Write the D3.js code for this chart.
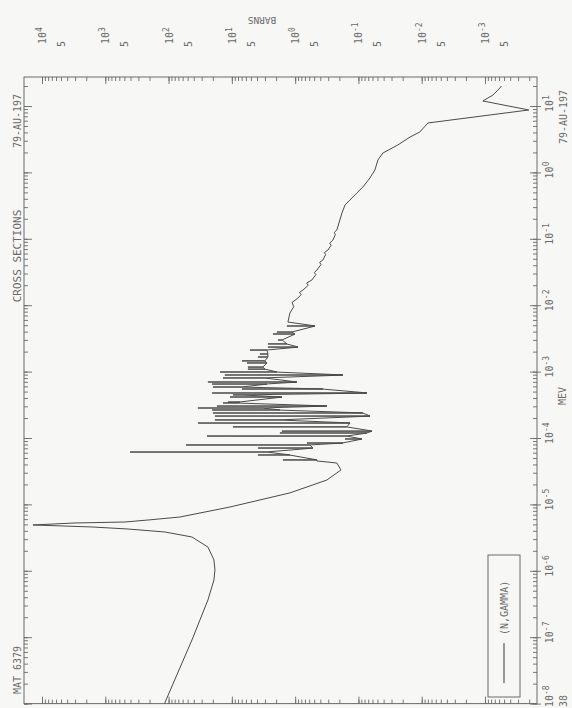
<!DOCTYPE html>
<html><head><meta charset="utf-8">
<script src="https://cdn.jsdelivr.net/npm/d3@7"></script>
<style>body{margin:0;background:#f7f7f5}svg{display:block}</style>
</head><body><svg id="c" width="572" height="708"></svg>
<script>
// ---------- data ----------
const energyTicks = [1e-8,1e-7,1e-6,1e-5,1e-4,1e-3,1e-2,1e-1,1,10];
const energyTickExp = ["-8","-7","-6","-5","-4","-3","-2","-1","0","1"];
const barnsTicks = [1e4,1e3,1e2,1e1,1,1e-1,1e-2,1e-3];
const barnsTickExp = ["4","3","2","1","0","-1","-2","-3"];
const barnsFiveTicks = [5e3,5e2,5e1,5,5e-1,5e-2,5e-3,5e-4];

// low-energy part (MeV, barns), incl. 4.9 eV resonance
const lowE  = [1.0e-8,9.08e-8,3.63e-7,7.26e-7,1.03e-6,1.46e-6,2.28e-6,3.23e-6,3.84e-6,4.26e-6,4.57e-6,4.90e-6,5.25e-6,5.43e-6,5.82e-6,6.46e-6,9.14e-6,1.49e-5,2.33e-5,3.30e-5,4.20e-5,4.51e-5];
const lowXS = [116,42.7,23.9,19.2,18.5,19.2,23.9,42.7,114,438,1620,13900,3010,489,211,66.1,10.7,1.21,0.315,0.189,0.219,0.453];

// resolved resonance region: resonance energy, peak and valley cross sections
const forestE = [4.67e-5,5.55e-5,6.15e-5,7.06e-5,7.85e-5,8.41e-5,9.66e-5,1.07e-4,1.19e-4,1.27e-4,1.47e-4,1.68e-4,1.87e-4,2.14e-4,2.38e-4,2.64e-4,2.83e-4,3.03e-4,3.37e-4,3.48e-4,4.14e-4,4.45e-4,4.76e-4,5.47e-4,5.86e-4,6.50e-4,6.97e-4,8.02e-4,8.89e-4,9.86e-4,1.09e-3,1.17e-3,1.35e-3,1.45e-3,1.66e-3,1.84e-3,2.11e-3,2.34e-3,2.61e-3,2.99e-3,3.68e-3,3.94e-3,4.86e-3];
const forestPeak = [1.56,3.87,407,3.87,53.1,0.651,0.163,24.7,1.74,1.62,9.61,34.3,18.5,18.5,19.9,20.6,34.3,17.2,13.8,11.5,10.7,9.61,20.6,6.92,19.9,20.6,23.9,13.8,12.9,15.4,5.57,5.57,5.77,6.92,3.87,3.60,5.18,2.69,2.69,1.87,2.24,1.94,1.35];
const forestValley = [0.453,1.21,2.79,0.524,0.584,0.176,0.0881,0.152,0.0734,0.0612,0.152,0.136,1.74,0.0658,0.0849,1.74,3.23,0.315,8.01,7.45,1.62,6.68,0.0734,0.364,6.92,2.79,0.937,3.00,0.176,1.94,3.00,3.23,2.79,3.00,2.69,2.69,2.79,0.904,1.35,1.6,1.01,1.12,0.487];

// unresolved / fast region
const highE  = [5.58e-3,7.63e-3,9.5e-3,0.0110,0.0128,0.0145,0.0155,0.0169,0.0200,0.0215,0.0240,0.0290,0.0310,0.0339,0.041,0.044,0.0480,0.058,0.062,0.0678,0.080,0.086,0.0959,0.115,0.125,0.136,0.173,0.245,0.323,0.490,0.603,0.824,1.09,1.54,1.96,2.59,3.41,4.06,5.55,8.71,11.9,14.6,18.7,20.0];
const highXS = [1.30,1.21,1.05,1.12,0.904,0.80,0.86,0.753,0.62,0.66,0.543,0.47,0.50,0.453,0.39,0.41,0.364,0.33,0.345,0.303,0.27,0.285,0.253,0.232,0.240,0.219,0.203,0.182,0.163,0.106,0.0849,0.0658,0.0548,0.0492,0.0410,0.0238,0.0153,0.0107,0.00798,0.000203,0.00108,0.000750,0.000582,0.00055];

const legendLabel = "(N,GAMMA)";
const titleText = "CROSS SECTIONS";
const matText = "MAT 6379";
const isoText = "79-AU-197";

// ---------- layout ----------
const X0 = 24, X1 = 537, Y0 = 77, Y1 = 703.6;
const yE = d3.scaleLog().domain([1e-8, 10]).range([703.6, 106]);
const xB = d3.scaleLog().domain([1e4, 1e-3]).range([42, 485]);
const INK = "#6a6a6a", CURVE = "#4a4a4a";
const FONT = "'DejaVu Sans Mono', monospace";

const svg = d3.select("#c");
svg.append("rect").attr("width",572).attr("height",708).attr("fill","#f7f7f5");

// build the curve points
const pts = [];
lowE.forEach((e,i)=>pts.push([e,lowXS[i]]));
forestE.forEach((e,i)=>{
  pts.push([e*0.997, forestValley[i]]);
  pts.push([e, forestPeak[i]]);
  pts.push([e*1.003, forestValley[i]]);
});
highE.forEach((e,i)=>pts.push([e,highXS[i]]));

// minor tick generator
function decadeTicks(lo, hi){const t=[];for(let k=lo;k<=hi;k++)for(let m=1;m<10;m++)t.push(+(m*Math.pow(10,k)).toPrecision(3));return t;}
const eMinor = decadeTicks(-9,2).filter(v=>yE(v)>=Y0-0.1 && yE(v)<=Y1+0.1);
const bMinor = decadeTicks(-5,5).filter(v=>xB(v)>=X0-0.1 && xB(v)<=X1+0.1);

function styleAxis(g){g.select(".domain").remove();g.selectAll("line").attr("stroke",INK).attr("stroke-width",0.9);}

// right (energy) axis: minor inside, major crossing
svg.append("g").attr("transform",`translate(${X1},0)`)
  .call(d3.axisLeft(yE).tickValues(eMinor).tickSize(4).tickFormat("")).call(styleAxis);
svg.append("g").attr("transform",`translate(${X1+4},0)`)
  .call(d3.axisLeft(yE).tickValues(energyTicks).tickSize(11).tickFormat("")).call(styleAxis);
// left frame ticks
svg.append("g").attr("transform",`translate(${X0},0)`)
  .call(d3.axisRight(yE).tickValues(eMinor).tickSize(4).tickFormat("")).call(styleAxis);
svg.append("g").attr("transform",`translate(${X0},0)`)
  .call(d3.axisRight(yE).tickValues(energyTicks).tickSize(8).tickFormat("")).call(styleAxis);
// top (barns) axis
svg.append("g").attr("transform",`translate(0,${Y0})`)
  .call(d3.axisBottom(xB).tickValues(bMinor).tickSize(4).tickFormat("")).call(styleAxis);
svg.append("g").attr("transform",`translate(0,${Y0})`)
  .call(d3.axisBottom(xB).tickValues(barnsTicks).tickSize(7).tickFormat("")).call(styleAxis);
// bottom frame ticks
svg.append("g").attr("transform",`translate(0,${Y1})`)
  .call(d3.axisTop(xB).tickValues(bMinor).tickSize(4).tickFormat("")).call(styleAxis);
svg.append("g").attr("transform",`translate(0,${Y1})`)
  .call(d3.axisTop(xB).tickValues(barnsTicks).tickSize(7).tickFormat("")).call(styleAxis);

// frame
svg.append("rect").attr("x",X0).attr("y",Y0).attr("width",X1-X0).attr("height",Y1-Y0)
  .attr("fill","none").attr("stroke",INK).attr("stroke-width",1);

// curve
svg.append("clipPath").attr("id","clip").append("rect")
  .attr("x",X0).attr("y",Y0).attr("width",X1-X0).attr("height",Y1-Y0);
const line = d3.line().x(d=>xB(d[1])).y(d=>yE(d[0]));
svg.append("path").datum(pts).attr("clip-path","url(#clip)")
  .attr("d",line).attr("fill","none").attr("stroke",CURVE).attr("stroke-width",1)
  .attr("stroke-linejoin","round");

// rotated text helper (reads bottom to top)
function vtext(x,y,str,size,anchor){
  return svg.append("text").attr("transform",`translate(${x},${y}) rotate(-90)`)
    .attr("text-anchor",anchor||"middle").attr("font-family",FONT).attr("font-size",size)
    .attr("fill",INK).text(str);
}
function powLabel(x,y,exp){
  const t = svg.append("text").attr("transform",`translate(${x},${y}) rotate(-90)`)
    .attr("font-family",FONT).attr("font-size",10).attr("fill",INK);
  t.append("tspan").text("10");
  t.append("tspan").attr("dy",-4).attr("font-size",8).text(exp);
  return t;
}

// energy tick labels (right); lowest one kept inside the page
energyTicks.forEach((v,i)=>{ powLabel(553, Math.min(yE(v)+6, 707), energyTickExp[i]); });
// barns tick labels (top)
barnsTicks.forEach((v,i)=>{ powLabel(xB(v)+4, 44, barnsTickExp[i]); });
barnsFiveTicks.forEach(v=>{ vtext(xB(v)+4, 47, "5", 10, "start"); });

// axis titles and annotations
svg.append("text").attr("transform",`translate(262,17) rotate(180)`).attr("text-anchor","middle")
  .attr("font-family",FONT).attr("font-size",9.5).attr("fill",INK).text("BARNS");
vtext(566, 396, "MEV", 10);
vtext(567, 117, isoText, 10);
vtext(567, 707, "38", 10, "start");
vtext(21, 256, titleText, 11);
vtext(21, 121, isoText, 10);
vtext(21, 670, matText, 10);

// legend
const lg = svg.append("g");
lg.append("rect").attr("x",488).attr("y",555).attr("width",32).attr("height",142)
  .attr("fill","none").attr("stroke",INK).attr("stroke-width",1);
lg.append("line").attr("x1",504).attr("x2",504).attr("y1",683).attr("y2",643)
  .attr("stroke",CURVE).attr("stroke-width",1.1);
lg.append("text").attr("transform",`translate(508,635) rotate(-90)`).attr("font-family",FONT)
  .attr("font-size",10).attr("fill",INK).text(legendLabel);
</script></body></html>
